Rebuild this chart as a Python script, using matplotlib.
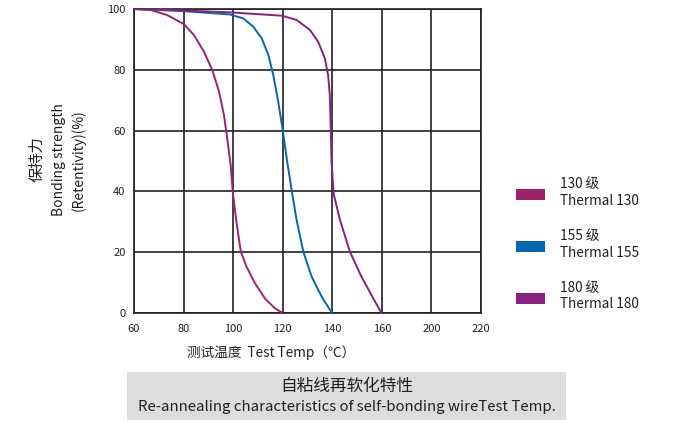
import matplotlib.pyplot as plt
from matplotlib.patches import Rectangle

plt.rcParams['font.family'] = ['Noto Sans CJK SC', 'DejaVu Sans']

# x positions follow the grid columns; the printed labels skip 180
x_ticks = [60, 80, 100, 120, 140, 160, 180, 200]
x_labels = ['60', '80', '100', '120', '140', '160', '200', '220']
y_ticks = [0, 20, 40, 60, 80, 100]

# Thermal 130
t130_x = [60, 66.7, 73.4, 80.2, 84.2, 88.2, 91.6, 94.3, 96.3, 97.6, 99.0, 99.9,
          101.4, 103.1, 105.4, 108.8, 112.8, 116.9, 119.6]
t130_y = [100, 99.7, 98.0, 95.0, 91.4, 86.0, 79.9, 72.8, 65.1, 57.5, 48.7, 39.4,
          29.5, 20.2, 15.2, 9.8, 4.8, 1.5, 0.2]

# Thermal 155
t155_x = [60, 80, 98.7, 104.1, 108.1, 111.5, 114.2, 116.2, 118.2, 120.0, 121.6, 123.6,
          125.6, 128.3, 131.7, 135.7, 139.7]
t155_y = [100, 99.3, 98.2, 96.9, 94.2, 90.4, 84.9, 78.3, 69.5, 60.2, 50.9, 40.5,
          30.6, 20.2, 11.9, 5.4, 0.2]

# Thermal 180
t180_x = [60, 80, 98.7, 119.6, 125.6, 131.0, 134.3, 137.0, 138.3, 139.0, 139.4, 139.7,
          140.4, 140.6, 143.1, 147.1, 151.8, 155.8, 159.7]
t180_y = [100, 99.5, 98.9, 97.8, 96.4, 93.1, 89.2, 83.8, 78.3, 71.7, 60.2, 49.8,
          41.0, 39.0, 30.6, 20.2, 11.9, 5.9, 0.2]

c130 = '#a2216f'
c155 = '#0068b2'
c180 = '#8a217f'
grid_c = '#231f20'

fig = plt.figure(figsize=(6.73, 4.23), dpi=100)
ax = fig.add_axes([134 / 673, 1 - 313 / 423, 347 / 673, 304 / 423])

ax.plot(t130_x, t130_y, color=c130, lw=1.4, zorder=3)
ax.plot(t155_x, t155_y, color=c155, lw=1.4, zorder=3)
ax.plot(t180_x, t180_y, color=c180, lw=1.4, zorder=4)

ax.set_xlim(60, 200)
ax.set_ylim(0, 100)
ax.set_xticks(x_ticks)
ax.set_xticklabels(x_labels)
ax.set_yticks(y_ticks)
ax.grid(True, color=grid_c, lw=1.2)
ax.set_axisbelow(True)
ax.tick_params(length=0, labelsize=8, colors='#231f20')
ax.tick_params(axis='x', pad=8)
ax.tick_params(axis='y', pad=6)
for s in ax.spines.values():
    s.set_color(grid_c)
    s.set_linewidth(1.2)

# y axis title, three lines
fig.text(37 / 673, 1 - 159 / 423, '保持力', rotation=90, ha='center', va='center',
         fontsize=11, color='#231f20')
fig.text(59 / 673, 1 - 160 / 423, 'Bonding strength', rotation=90, ha='center', va='center',
         fontsize=10, color='#231f20')
fig.text(78 / 673, 1 - 160 / 423, '(Retentivity)(%)', rotation=90, ha='center', va='center',
         fontsize=10, color='#231f20')

fig.text(271 / 673, 1 - 353 / 423, '测试温度  Test Temp（℃）', ha='center', va='center',
         fontsize=9.8, color='#231f20')

# legend
legend_items = [(c130, '130 级', 'Thermal 130', 189),
                (c155, '155 级', 'Thermal 155', 241),
                (c180, '180 级', 'Thermal 180', 293)]
for col, zh, en, top in legend_items:
    fig.patches.append(Rectangle((516 / 673, 1 - (top + 11) / 423), 29 / 673, 11 / 423,
                                 transform=fig.transFigure, facecolor=col, edgecolor='none'))
    fig.text(560 / 673, 1 - (top - 5) / 423, zh, ha='left', va='center', fontsize=9.8,
             color='#231f20')
    fig.text(560 / 673, 1 - (top + 11.5) / 423, en, ha='left', va='center', fontsize=9.8,
             color='#231f20')

# caption band
fig.patches.append(Rectangle((127 / 673, 1 - 420 / 423), 439 / 673, 48 / 423,
                             transform=fig.transFigure, facecolor='#dddddd', edgecolor='none'))
fig.text(347 / 673, 1 - 386 / 423, '自粘线再软化特性', ha='center', va='center',
         fontsize=12, color='#231f20')
fig.text(347 / 673, 1 - 407 / 423, 'Re-annealing characteristics of self-bonding wireTest Temp.',
         ha='center', va='center', fontsize=10.8, color='#231f20')

fig.savefig('out.png', dpi=100)
